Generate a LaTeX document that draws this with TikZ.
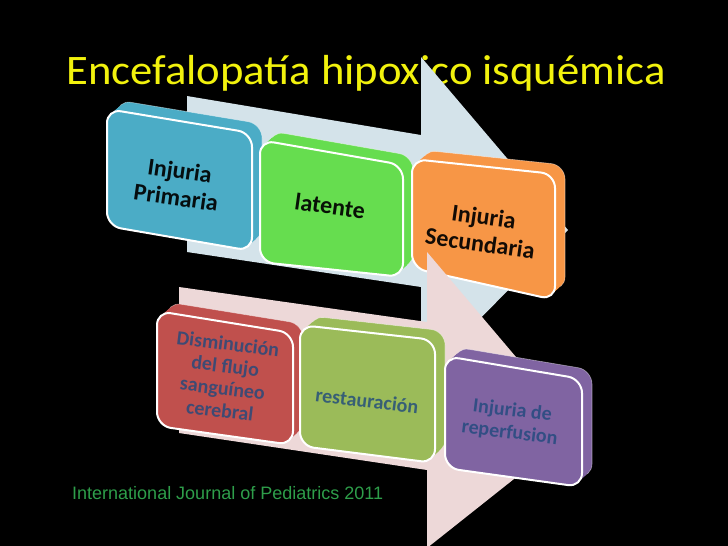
\documentclass[tikz,border=0pt]{standalone}
\usepackage{fontspec}
\setmainfont{Carlito}
\newfontfamily\arialfont{Liberation Sans}
\usetikzlibrary{calc}
\definecolor{titleyellow}{HTML}{F2F20D}
\definecolor{arrowblue}{HTML}{D4E3EA}
\definecolor{arrowpink}{HTML}{EDD8D8}
\definecolor{boxblue}{HTML}{4BACC6}
\definecolor{boxgreen}{HTML}{66DD4F}
\definecolor{boxorange}{HTML}{F79646}
\definecolor{boxred}{HTML}{C0504D}
\definecolor{boxgreentwo}{HTML}{9BBB59}
\definecolor{boxpurple}{HTML}{8064A2}
\definecolor{footgreen}{HTML}{2E9E4A}
\definecolor{textblue}{HTML}{1F497D}
\newcommand\extbox[5]{%
  \path[fill=#1, draw=white, draw opacity=0.45, line width=0.6pt, rounded corners=14pt, shift={(10,-9)}]
    ($#2!0.5!#5$) -- #2 -- #3 -- #4 -- #5 -- cycle;
  \foreach \s in {0.15,0.3,...,0.9}{%
    \path[fill=#1, rounded corners=14pt, shift={(10*\s,-9*\s)}]
      ($#2!0.5!#5$) -- #2 -- #3 -- #4 -- #5 -- cycle;}
  \path[fill=#1, draw=white, line width=2pt, rounded corners=14pt]
    ($#2!0.5!#5$) -- #2 -- #3 -- #4 -- #5 -- cycle;
}
\begin{document}
\begin{tikzpicture}[x=1pt,y=-1pt,
  toptext/.style={font=\bfseries\fontsize{24}{27}\selectfont, text=black, text opacity=0.92, align=center, rotate=-8, inner sep=0},
  bottext/.style={font=\bfseries\fontsize{20}{22.5}\selectfont, text=textblue, text opacity=0.8, align=center, rotate=-7, inner sep=0}]
\useasboundingbox (0,0) rectangle (728,546);
\fill[black] (0,0) rectangle (728,546);
\node[anchor=base west, text=titleyellow, font=\fontsize{42}{48}\selectfont, xscale=1.064, inner sep=0] (title) at (66,84) {Encefalopatía hipoxico isquémica};
% top arrow
\fill[arrowblue] (187,96) -- (421,135) -- (421,57) -- (568,230) -- (421,378) -- (421,287) -- (187,252) -- cycle;
% top boxes
\extbox{boxblue}{(107,109)}{(252,133)}{(252,251)}{(107,226)}
\extbox{boxgreen}{(260,140)}{(403,165)}{(403,277)}{(260,262)}
\extbox{boxorange}{(412,159)}{(555,174)}{(555,300)}{(412,268)}
\node[toptext] (t1) at (178,184) {Injuria\\Primaria};
\node[toptext] (t2) at (330,206) {latente};
\node[toptext] (t3) at (482,230) {Injuria\\Secundaria};
% bottom arrow
\fill[arrowpink] (179,287) -- (427,322) -- (427,252) -- (577,429) -- (427,548) -- (427,470) -- (179,433) -- cycle;
% bottom boxes
\extbox{boxred}{(157,311)}{(293,333)}{(293,445)}{(157,426)}
\extbox{boxgreentwo}{(300,325)}{(435,340)}{(435,463)}{(300,446)}
\extbox{boxpurple}{(445,356)}{(582,379)}{(582,487)}{(445,468)}
\node[bottext] (b1) at (224,377) {Disminución\\del flujo\\sanguíneo\\cerebral};
\node[bottext] (b2) at (367,401) {restauración};
\node[bottext] (b3) at (511,422) {Injuria de\\reperfusion};
\node[anchor=base west, font=\arialfont\fontsize{18}{21}\selectfont, text=footgreen, inner sep=0] (foot) at (72,499) {International Journal of Pediatrics 2011};
\end{tikzpicture}
\end{document}
